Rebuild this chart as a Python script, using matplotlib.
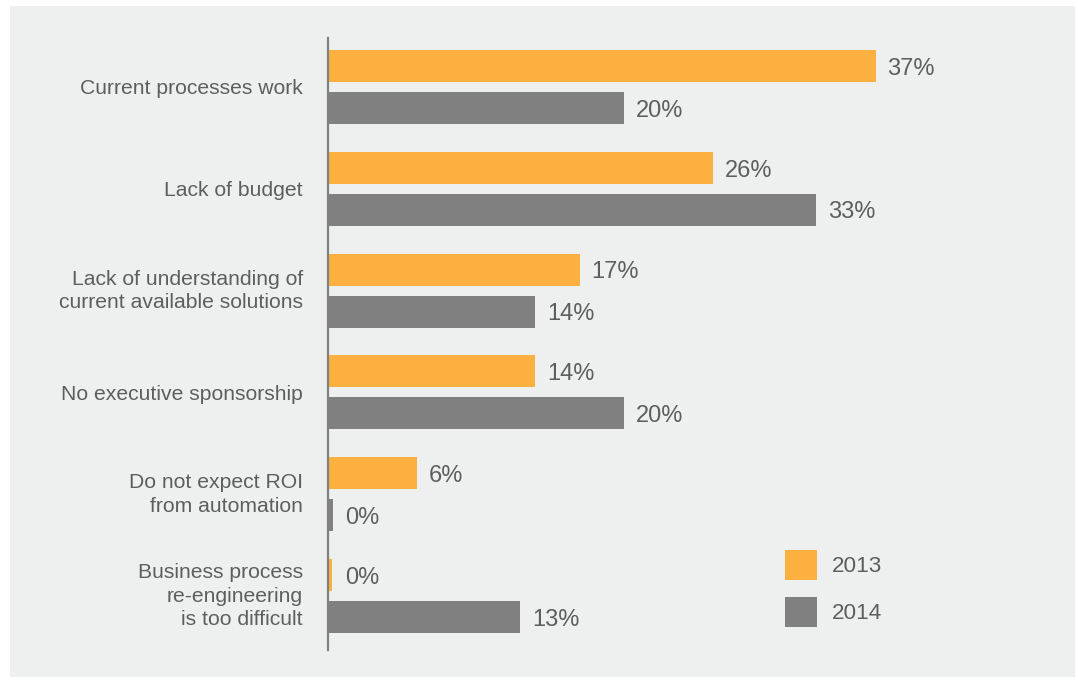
import numpy as np
import matplotlib.pyplot as plt
from matplotlib.patches import Rectangle

# --- data ---
categories = [
    "Current processes work",
    "Lack of budget",
    "Lack of understanding of\ncurrent available solutions",
    "No executive sponsorship",
    "Do not expect ROI\nfrom automation",
    "Business process\nre-engineering\nis too difficult",
]
vals_2013 = [37, 26, 17, 14, 6, 0]
vals_2014 = [20, 33, 14, 20, 0, 13]
series_labels = ["2013", "2014"]

orange = "#fbb03f"
grey = "#808080"
text_col = "#5e5e5e"
panel_col = "#eef0ef"

W, H = 1078, 681
fig = plt.figure(figsize=(W / 100, H / 100), dpi=100, facecolor="white")
plt.rcParams['font.family'] = ['Liberation Sans', 'DejaVu Sans']

# light grey panel behind everything
fig.patches.append(Rectangle((10 / W, 4 / H), 1065 / W, 671 / H,
                             transform=fig.transFigure, facecolor=panel_col,
                             edgecolor="none", zorder=-10))

# axes placed in pixel terms
ax = fig.add_axes([328 / W, (H - 650) / H, 740 / W, 612 / H])
ax.set_facecolor("none")

y = np.arange(len(categories))
off = 0.206
h = 0.314
# tiny stub so a 0% bar still shows
w13 = np.maximum(vals_2013, 0.3)
w14 = np.maximum(vals_2014, 0.35)

b13 = ax.barh(y - off, w13, height=h, color=orange, label=series_labels[0])
b14 = ax.barh(y + off, w14, height=h, color=grey, label=series_labels[1])

for ys, vals in ((y - off, vals_2013), (y + off, vals_2014)):
    for yy, v in zip(ys, vals):
        ax.annotate(f"{v}%", (max(v, 0.35), yy), xytext=(8.5, -2),
                    textcoords="offset points", va="center", ha="left",
                    fontsize=17, color=text_col)

# category labels, right aligned against the axis line
for yy, cat in zip(y, categories):
    dy = 2.8 if "\n" in cat else 0
    ax.annotate(cat, (0, yy), xytext=(-18, dy), textcoords="offset points",
                va="center_baseline", ha="right", fontsize=15.2,
                color=text_col, linespacing=1.3, annotation_clip=False)

ax.set_xlim(0, 50)
ax.set_ylim(5.53, -0.48)
ax.set_yticks([])
ax.set_xticks([])

for s in ("top", "right", "bottom"):
    ax.spines[s].set_visible(False)
ax.spines["left"].set_color(grey)
ax.spines["left"].set_linewidth(1.6)

leg = ax.legend(handles=[b13, b14], loc="upper left",
                bbox_to_anchor=(785 / W, 1 - 550 / H),
                bbox_transform=fig.transFigure, frameon=False,
                fontsize=16.2, handlelength=1.4, handleheight=1.67,
                handletextpad=0.68, labelspacing=0.75, borderpad=0,
                borderaxespad=0)
for t in leg.get_texts():
    t.set_color(text_col)

fig.savefig("out.png", dpi=100, facecolor="white")
